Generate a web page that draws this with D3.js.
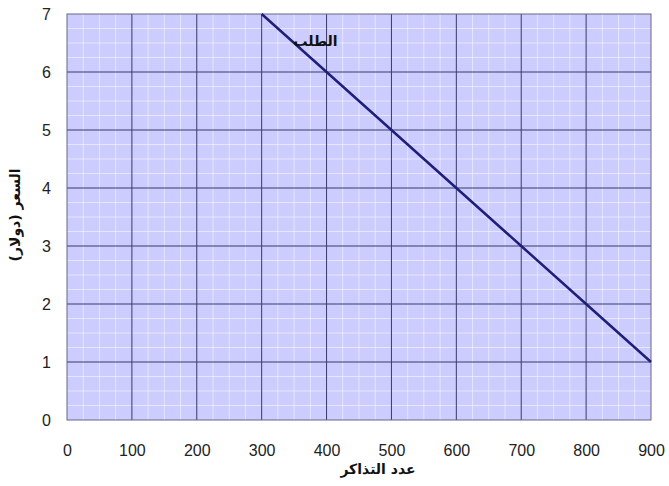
<!DOCTYPE html>
<html><head><meta charset="utf-8">
<script src="https://cdn.jsdelivr.net/npm/d3@7"></script>
<style>body{margin:0;background:#fff}svg{display:block}</style>
</head><body>
<script>
const quantity = [300, 400, 500, 600, 700, 800, 900];
const price = [7, 6, 5, 4, 3, 2, 1];
const xTicks = [0,100,200,300,400,500,600,700,800,900];
const yTicks = [0,1,2,3,4,5,6,7];
const xLabel = "عدد التذاكر";
const yLabel = "السعر (دولار)";
const seriesLabel = "الطلب";

const W = 669, H = 486;
const svg = d3.select("body").append("svg").attr("width", W).attr("height", H);
const x = d3.scaleLinear().domain([0, 900]).range([67, 651]);
const y = d3.scaleLinear().domain([0, 7]).range([420, 14]);

svg.append("rect").attr("x", x(0)).attr("y", y(7)).attr("width", x(900)-x(0)).attr("height", y(0)-y(7)).attr("fill", "#ccccff");

const g = svg.append("g");
// minor grid
g.selectAll(".mx").data(d3.range(25, 900, 25).filter(v => v % 100 !== 0)).join("line")
  .attr("x1", d => x(d)).attr("x2", d => x(d)).attr("y1", y(0)).attr("y2", y(7))
  .attr("stroke", "#ffffff").attr("stroke-opacity", 0.5).attr("stroke-width", 1);
g.selectAll(".my").data(d3.range(0.25, 7, 0.25).filter(v => v % 1 !== 0)).join("line")
  .attr("y1", d => y(d)).attr("y2", d => y(d)).attr("x1", x(0)).attr("x2", x(900))
  .attr("stroke", "#ffffff").attr("stroke-opacity", 0.5).attr("stroke-width", 1);
// major grid
g.selectAll(".Mx").data(xTicks.slice(1, -1)).join("line")
  .attr("x1", d => x(d)).attr("x2", d => x(d)).attr("y1", y(0)).attr("y2", y(7))
  .attr("stroke", "#3a3a6a").attr("stroke-width", 1);
g.selectAll(".My").data(yTicks.slice(1, -1)).join("line")
  .attr("y1", d => y(d)).attr("y2", d => y(d)).attr("x1", x(0)).attr("x2", x(900))
  .attr("stroke", "#3a3a6a").attr("stroke-width", 1);
svg.append("rect").attr("x", x(0)).attr("y", y(7)).attr("width", x(900)-x(0)).attr("height", y(0)-y(7))
  .attr("fill", "none").attr("stroke", "#666688").attr("stroke-width", 1);

// axes
const xAxis = svg.append("g").attr("transform", `translate(0,${y(0)})`)
  .call(d3.axisBottom(x).tickValues(xTicks).tickFormat(d3.format("d")).tickSize(0).tickPadding(22));
const yAxis = svg.append("g").attr("transform", `translate(${x(0)},0)`)
  .call(d3.axisLeft(y).tickValues(yTicks).tickFormat(d3.format("d")).tickSize(0).tickPadding(16));
[xAxis, yAxis].forEach(a => {
  a.select(".domain").remove();
  a.selectAll("text").attr("font-family", "Liberation Sans, Arial, sans-serif").attr("font-size", 16).attr("fill", "#222");
});
xAxis.selectAll("text").attr("dy", "0.35em").attr("y", 30);

// line
const line = d3.line().x((d, i) => x(quantity[i])).y(d => y(d));
svg.append("path").datum(price).attr("d", line).attr("fill", "none")
  .attr("stroke", "#1f1f7a").attr("stroke-width", 2.5);

svg.append("text").attr("x", x(383)).attr("y", y(6.45)).attr("text-anchor", "middle")
  .attr("font-family", "DejaVu Sans, sans-serif").attr("font-size", 14).attr("font-weight", "bold")
  .attr("fill", "#111").text(seriesLabel);
svg.append("text").attr("x", 378).attr("y", 474).attr("text-anchor", "middle")
  .attr("font-family", "DejaVu Sans, sans-serif").attr("font-size", 14).attr("font-weight", "bold")
  .attr("fill", "#111").text(xLabel);
svg.append("text").attr("transform", `translate(20,215) rotate(-90)`).attr("text-anchor", "middle")
  .attr("font-family", "DejaVu Sans, sans-serif").attr("font-size", 14).attr("font-weight", "bold")
  .attr("fill", "#111").text(yLabel);
</script>
</body></html>
